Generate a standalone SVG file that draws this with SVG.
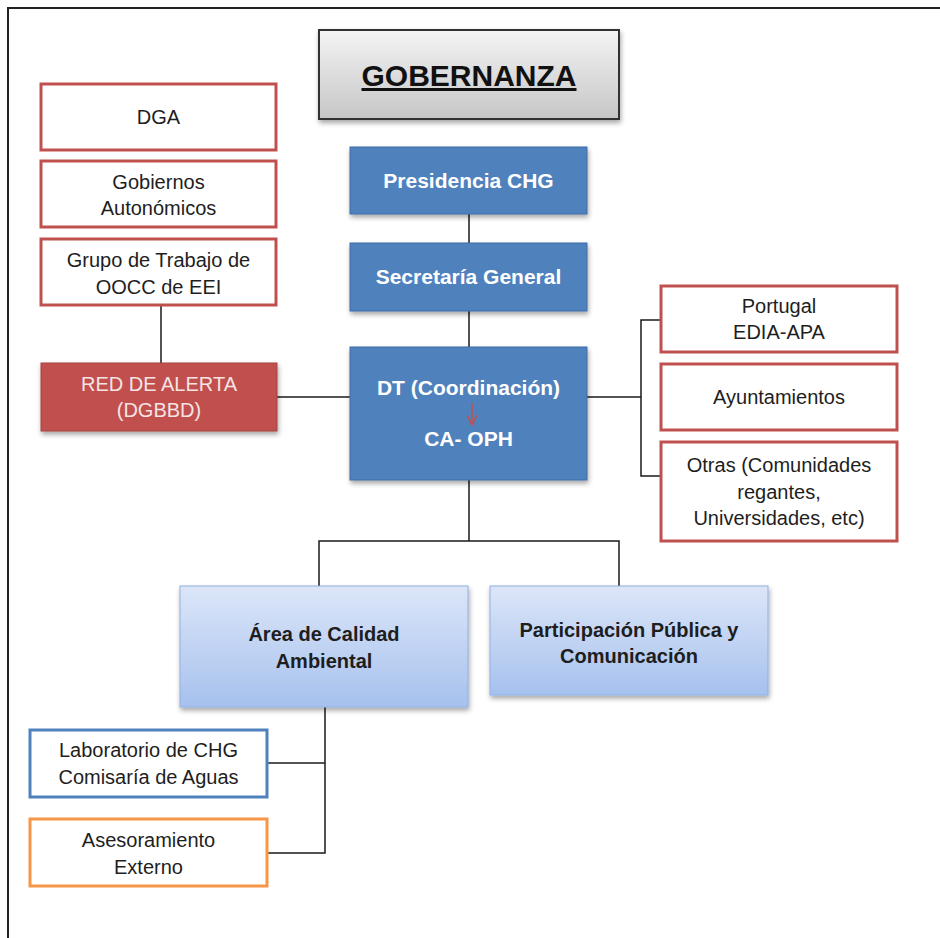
<svg xmlns="http://www.w3.org/2000/svg" width="940" height="938" viewBox="0 0 940 938">
<defs>
<linearGradient id="gGray" x1="0" y1="0" x2="0" y2="1"><stop offset="0" stop-color="#f4f4f4"/><stop offset="1" stop-color="#c6c6c6"/></linearGradient>
<linearGradient id="gBlue" x1="0" y1="0" x2="0" y2="1"><stop offset="0" stop-color="#dce6f8"/><stop offset="1" stop-color="#a6c1ee"/></linearGradient>
<filter id="sh" x="-10%" y="-10%" width="125%" height="130%"><feDropShadow dx="1" dy="3" stdDeviation="2.5" flood-color="#000" flood-opacity="0.35"/></filter>
<marker id="arr" viewBox="0 0 10 10" refX="9" refY="5" markerWidth="12" markerHeight="12" orient="auto" markerUnits="userSpaceOnUse"><path d="M1,1 L9,5 L1,9" fill="none" stroke="#c0504d" stroke-width="1.3"/></marker>
<style>
text{font-family:"Liberation Sans",Arial,sans-serif;text-anchor:middle}
.red{fill:#fff;stroke:#c0504d;stroke-width:3}
.blue{fill:#4f81bd;stroke:#3d6da8;stroke-width:1}
.lb{fill:url(#gBlue);stroke:#8fb0df;stroke-width:1}
.t{font-size:20px;fill:#1e1e1e}
.tw{font-size:21px;font-weight:bold;fill:#fff}
.tb{font-size:20px;font-weight:bold;fill:#1e1e1e}
.conn{fill:none;stroke:#1a1a1a;stroke-width:1.5}
</style>
</defs>
<rect x="0" y="0" width="940" height="938" fill="#fff"/>
<rect x="8" y="8" width="980" height="980" fill="none" stroke="#222" stroke-width="2"/>
<g id="connectors" class="conn">
<path d="M469,214 V243"/>
<path d="M469,311 V347"/>
<path d="M161,305 V363"/>
<path d="M277,397 H350"/>
<path d="M587,397 H641"/>
<path d="M661,320 H641 V476 H661"/>
<path d="M469,480 V541"/>
<path d="M319,586 V541 H619 V586"/>
<path d="M325,707 V853 H267"/>
<path d="M267,763 H325"/>
</g>
<g id="gobernanza" filter="url(#sh)">
<rect x="319" y="30" width="300" height="89" fill="url(#gGray)" stroke="#333" stroke-width="2"/>
</g>
<g id="gobernanza-text">
<text x="469" y="86" style="font-size:30px;font-weight:bold;fill:#111;text-decoration:underline">GOBERNANZA</text>
</g>
<g id="dga"><rect class="red" x="41" y="84" width="235" height="66"/><text class="t" x="158.5" y="124">DGA</text></g>
<g id="gobiernos"><rect class="red" x="41" y="161" width="235" height="66"/><text class="t" x="158.5" y="189">Gobiernos</text><text class="t" x="158.5" y="215">Autonómicos</text></g>
<g id="grupo"><rect class="red" x="41" y="239" width="235" height="66"/><text class="t" x="158.5" y="267">Grupo de Trabajo de</text><text class="t" x="158.5" y="294">OOCC de EEI</text></g>
<g id="red-alerta"><rect x="41" y="363" width="236" height="68" fill="#c0504d" stroke="#a5403d" stroke-width="1" filter="url(#sh)"/><text class="t" x="159" y="391" style="fill:#f5e4e3">RED DE ALERTA</text><text class="t" x="159" y="417" style="fill:#f5e4e3">(DGBBD)</text></g>
<g id="presidencia"><rect class="blue" x="350" y="147" width="237" height="67" filter="url(#sh)"/><text class="tw" x="468.5" y="188">Presidencia CHG</text></g>
<g id="secretaria"><rect class="blue" x="350" y="243" width="237" height="68" filter="url(#sh)"/><text class="tw" x="468.5" y="284">Secretaría General</text></g>
<g id="dt"><rect class="blue" x="350" y="347" width="237" height="133" filter="url(#sh)"/><text class="tw" x="468.5" y="395">DT (Coordinación)</text><path d="M472,403 V425" stroke="#c0504d" stroke-width="1.5" fill="none" marker-end="url(#arr)"/><text class="tw" x="468.5" y="446">CA- OPH</text></g>
<g id="portugal"><rect class="red" x="661" y="286" width="236" height="66"/><text class="t" x="779" y="313">Portugal</text><text class="t" x="779" y="339">EDIA-APA</text></g>
<g id="ayuntamientos"><rect class="red" x="661" y="364" width="236" height="66"/><text class="t" x="779" y="404">Ayuntamientos</text></g>
<g id="otras"><rect class="red" x="661" y="442" width="236" height="99"/><text class="t" x="779" y="472">Otras (Comunidades</text><text class="t" x="779" y="499">regantes,</text><text class="t" x="779" y="525">Universidades, etc)</text></g>
<g id="area-calidad"><rect class="lb" x="180" y="586" width="288" height="121" filter="url(#sh)"/><text class="tb" x="324" y="641">Área de Calidad</text><text class="tb" x="324" y="668">Ambiental</text></g>
<g id="participacion"><rect class="lb" x="490" y="586" width="278" height="109" filter="url(#sh)"/><text class="tb" x="629" y="637">Participación Pública y</text><text class="tb" x="629" y="663">Comunicación</text></g>
<g id="laboratorio"><rect x="30" y="730" width="237" height="67" fill="#fff" stroke="#4f81bd" stroke-width="3"/><text class="t" x="148.5" y="757">Laboratorio de CHG</text><text class="t" x="148.5" y="784">Comisaría de Aguas</text></g>
<g id="asesoramiento"><rect x="30" y="819" width="237" height="67" fill="#fff" stroke="#f79646" stroke-width="3"/><text class="t" x="148.5" y="847">Asesoramiento</text><text class="t" x="148.5" y="874">Externo</text></g>
</svg>
